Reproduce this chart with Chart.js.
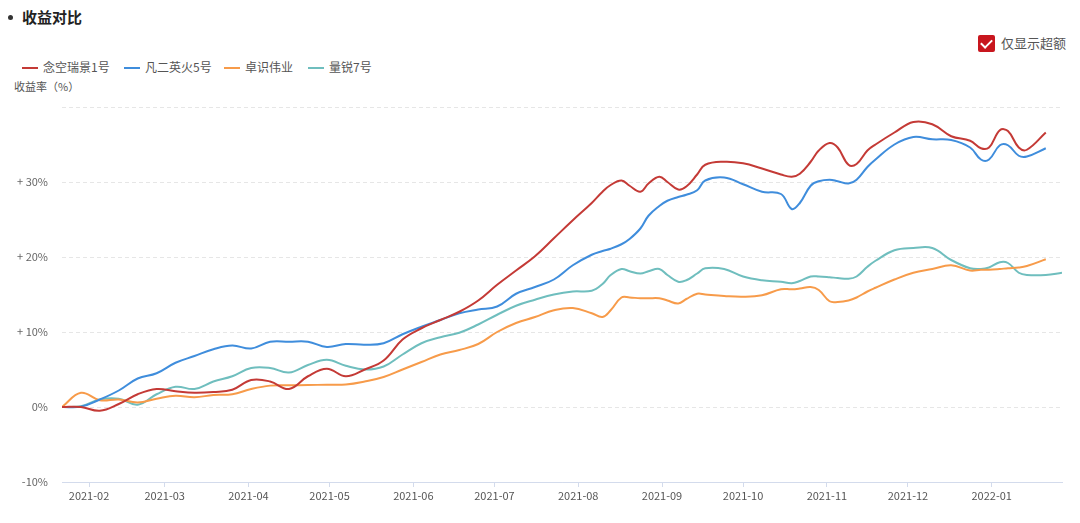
<!DOCTYPE html>
<html lang="zh">
<head>
<meta charset="UTF-8">
<title>收益对比</title>
<script src="https://cdn.jsdelivr.net/npm/chart.js"></script>
<style>
    body { margin: 0; background: #fff; font-family: "Noto Sans CJK SC", "Noto Sans", sans-serif; }
    #wrap { position: relative; width: 1080px; height: 523px; overflow: hidden; }
    #chart { position: absolute; left: 0; top: 0; }
    .title { position: absolute; left: 6px; top: 6px; font-size: 15px; font-weight: bold; color: #222; }
    .title .dot { display: inline-block; width: 5px; height: 5px; border-radius: 50%; background: #333; margin: 0 9px 3px 2px; vertical-align: middle; }
    .toggle { position: absolute; left: 978px; top: 33px; font-size: 13px; color: #555; }
    .toggle .box { display: inline-block; width: 17px; height: 17px; background: #c8161e; border-radius: 2px; position: relative; vertical-align: middle; margin-right: 6px; top: -1px; }
    .toggle .box:after { content: ""; position: absolute; left: 5px; top: 2px; width: 5px; height: 9px; border: solid #fff; border-width: 0 2px 2px 0; transform: rotate(45deg); }
    .legend span { position: absolute; top: 58px; font-size: 12px; color: #555; white-space: nowrap; }
    .legend i { display: inline-block; width: 16px; height: 2px; vertical-align: middle; margin-right: 5px; position: relative; top: -1px; }
    .ytitle { position: absolute; left: 14px; top: 78px; font-size: 11px; color: #555; }
</style>
</head>
<body>
<div id="wrap">
    <div class="title"><span class="dot"></span>收益对比</div>
    <div class="toggle"><span class="box"></span>仅显示超额</div>
    <div class="legend" id="legend"></div>
    <div class="ytitle">收益率（%）</div>
    <canvas id="chart" width="1080" height="523"></canvas>
</div>
<script>
    // sample dates (weekly, a bit denser where the curves wiggle)
    const dates = [
        '2021-01-22', '2021-01-29', '2021-02-05', '2021-02-12', '2021-02-19', '2021-02-26',
        '2021-03-05', '2021-03-12', '2021-03-19', '2021-03-26', '2021-04-02', '2021-04-09',
        '2021-04-16', '2021-04-23', '2021-04-30', '2021-05-07', '2021-05-14', '2021-05-21',
        '2021-05-28', '2021-06-04', '2021-06-11', '2021-06-18', '2021-06-25', '2021-07-02',
        '2021-07-09', '2021-07-16', '2021-07-23', '2021-07-30',
        '2021-08-06', '2021-08-10', '2021-08-13', '2021-08-17', '2021-08-20', '2021-08-24',
        '2021-08-27', '2021-08-31', '2021-09-03', '2021-09-07', '2021-09-10', '2021-09-14', '2021-09-17',
        '2021-09-24', '2021-10-01', '2021-10-08',
        '2021-10-15', '2021-10-19', '2021-10-22', '2021-10-26', '2021-10-29', '2021-11-02',
        '2021-11-05', '2021-11-09', '2021-11-12', '2021-11-16', '2021-11-19',
        '2021-11-26', '2021-12-03', '2021-12-10', '2021-12-17',
        '2021-12-24', '2021-12-28', '2021-12-31', '2022-01-04', '2022-01-07', '2022-01-11',
        '2022-01-14', '2022-01-21',
        '2022-01-27'
    ];
    const monthTicks = ['2021-02-01', '2021-03-01', '2021-04-01', '2021-05-01', '2021-06-01', '2021-07-01',
        '2021-08-01', '2021-09-01', '2021-10-01', '2021-11-01', '2021-12-01', '2022-01-01'];
    const monthLabels = ['2021-02', '2021-03', '2021-04', '2021-05', '2021-06', '2021-07',
        '2021-08', '2021-09', '2021-10', '2021-11', '2021-12', '2022-01'];
    const endDate = '2022-01-27';

    const seriesNames = ['念空瑞景1号', '凡二英火5号', '卓识伟业', '量锐7号'];
    const seriesColors = ['#c43a36', '#3f8ddc', '#f79b4a', '#6fbebe'];
    const legendLeft = [22, 124, 224, 308];

    // returns in %
    const nianKong = [0, 0, -0.5, 0.4, 1.7, 2.4, 2.1, 1.9, 2.0, 2.3, 3.6, 3.4, 2.4, 4.1, 5.1, 4.1, 5.0, 6.2,
        9.0, 10.5, 11.6, 12.7, 14.2, 16.3, 18.2, 20.1, 22.5, 24.9,
        27.2, 28.7, 29.6, 30.2, 29.5, 28.7, 29.8, 30.7, 30.0, 29.0, 29.4, 31.0, 32.3,
        32.7, 32.5, 31.8,
        31.0, 30.7, 31.1, 32.7, 34.2, 35.2, 34.6, 32.3, 32.4, 34.2, 35.0,
        36.6, 38.0, 37.7, 36.1,
        35.5, 34.5, 34.6, 36.9, 36.8, 34.6, 34.3, 36.6,
        null];
    const fanEr = [0, 0.05, 1.0, 2.2, 3.8, 4.5, 5.9, 6.8, 7.7, 8.2, 7.8, 8.7, 8.7, 8.7, 8.0, 8.4, 8.3, 8.5,
        9.7, 10.7, 11.6, 12.5, 13.0, 13.4, 15.1, 16.0, 17.0, 18.9,
        20.3, 20.8, 21.1, 21.7, 22.4, 23.8, 25.5, 26.8, 27.5, 28.0, 28.3, 28.9, 30.2,
        30.6, 29.7, 28.7,
        28.4, 26.4, 27.2, 29.5, 30.1, 30.3, 30.1, 29.8, 30.3, 32.0, 33.0,
        35.0, 36.0, 35.7, 35.6,
        34.6, 33.0, 33.0, 34.9, 34.9, 33.5, 33.4, 34.5,
        null];
    const zhuoShi = [0, 1.9, 0.9, 1.0, 0.6, 1.1, 1.5, 1.3, 1.6, 1.7, 2.4, 2.85, 2.9, 2.93, 2.97, 3.0, 3.4, 4.0,
        5.0, 6.0, 7.0, 7.6, 8.4, 10.0, 11.2, 12.0, 12.9, 13.2,
        12.5, 12.0, 12.9, 14.6, 14.6, 14.5, 14.5, 14.5, 14.2, 13.8, 14.4, 15.1, 15.0,
        14.8, 14.7, 14.9,
        15.7, 15.7, 15.8, 16.0, 15.6, 14.1, 14.0, 14.2, 14.6, 15.4, 15.9,
        17.0, 17.9, 18.4, 18.9,
        18.2, 18.3, 18.3, 18.4, 18.5, 18.6, 18.8, 19.7,
        null];
    const liangRui = [0, 0.1, 1.0, 1.1, 0.3, 1.7, 2.7, 2.4, 3.4, 4.1, 5.2, 5.2, 4.6, 5.6, 6.3, 5.5, 5.0, 5.4,
        7.0, 8.5, 9.3, 9.9, 11.0, 12.3, 13.5, 14.3, 15.0, 15.4,
        15.5, 16.4, 17.6, 18.4, 18.1, 17.8, 18.1, 18.4, 17.6, 16.7, 16.9, 17.8, 18.5,
        18.4, 17.4, 16.9,
        16.7, 16.5, 16.8, 17.4, 17.4, 17.3, 17.2, 17.1, 17.4, 18.7, 19.5,
        20.9, 21.2, 21.2, 19.6,
        18.5, 18.4, 18.6, 19.3, 19.2, 17.9, 17.6, 17.6,
        17.9];

    const yTicks = [-10, 0, 10, 20, 30, 40];
    const yLabels = ['-10%', '0%', '+ 10%', '+ 20%', '+ 30%', ''];

    const day0 = Date.parse(dates[0]);
    const toDay = d => (Date.parse(d) - day0) / 86400000;

    const allSeries = [nianKong, fanEr, zhuoShi, liangRui];

    document.getElementById('legend').innerHTML = seriesNames.map((n, i) =>
        `<span style="left:${legendLeft[i]}px"><i style="background:${seriesColors[i]}"></i>${n}</span>`).join('');

    const ctx = document.getElementById('chart').getContext('2d');
    const chart = new Chart(ctx, {
        type: 'line',
        data: {
            datasets: allSeries.map((s, i) => ({
                label: seriesNames[i],
                data: dates.map((d, j) => ({ x: toDay(d), y: s[j] })),
                borderColor: seriesColors[i],
                backgroundColor: seriesColors[i],
                borderWidth: 2,
                pointRadius: 0,
                tension: 0.4,
                spanGaps: false
            }))
        },
        options: {
            responsive: false,
            animation: false,
            layout: { padding: { top: 107, right: 18, left: 0, bottom: 0 } },
            plugins: { legend: { display: false }, tooltip: { enabled: false } },
            scales: {
                x: {
                    type: 'linear',
                    min: 0,
                    max: toDay(endDate),
                    afterBuildTicks: scale => {
                        scale.ticks = monthTicks.map(d => ({ value: toDay(d) }));
                    },
                    afterFit: scale => { scale.height = 41; },
                    ticks: {
                        autoSkip: false,
                        maxRotation: 0,
                        color: '#555',
                        font: { size: 11, family: '"Noto Sans CJK SC", sans-serif' },
                        padding: 2,
                        callback: (v, i) => monthLabels[i]
                    },
                    grid: { drawOnChartArea: false, drawTicks: true, tickLength: 5, color: '#d3dbec' },
                    border: { color: '#d3dbec' }
                },
                y: {
                    min: -10,
                    max: 40,
                    afterBuildTicks: scale => {
                        scale.ticks = yTicks.map(v => ({ value: v }));
                    },
                    afterFit: scale => { scale.width = 62; },
                    ticks: {
                        color: '#666',
                        font: { size: 11, family: '"Noto Sans CJK SC", sans-serif' },
                        padding: 14,
                        callback: (v, i) => yLabels[i]
                    },
                    grid: { drawTicks: false, color: '#e6e6e6' },
                    border: { display: false, dash: [4, 3] }
                }
            }
        }
    });
</script>
</body>
</html>
